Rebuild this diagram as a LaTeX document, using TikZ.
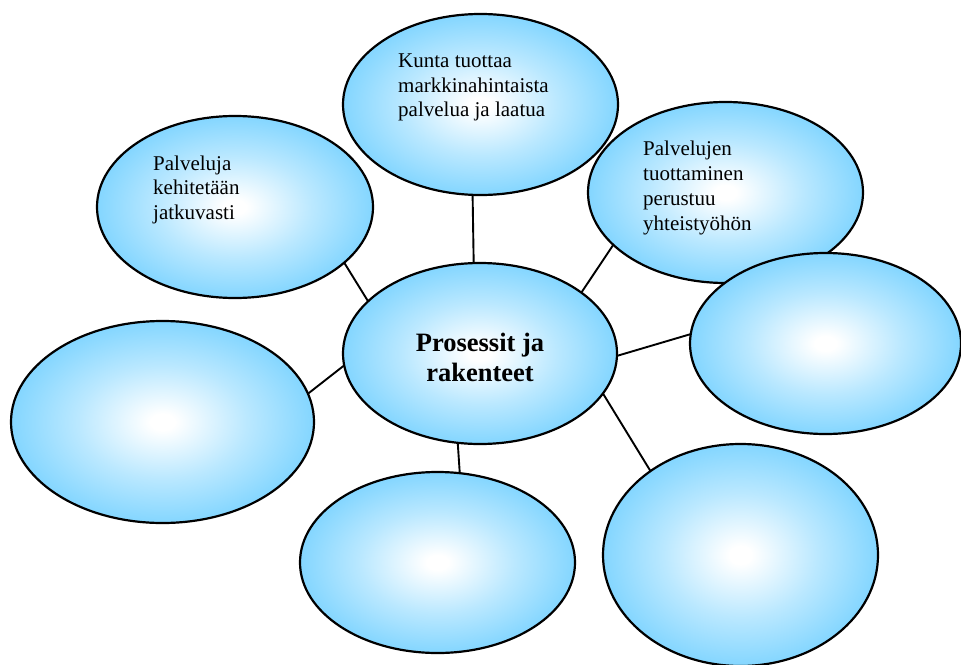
\documentclass[tikz,border=0pt]{standalone}
\usepackage{fontspec}
\setmainfont{Liberation Serif}
\usetikzlibrary{shapes.geometric}

\definecolor{bubbleblue}{RGB}{102,204,255}
\pgfdeclareradialshading{bubbleshade}{\pgfpoint{0bp}{0bp}}{%
  color(0bp)=(white); color(2bp)=(white); color(14bp)=(bubbleblue!45!white);
  color(31bp)=(bubbleblue); color(50bp)=(bubbleblue)}

\tikzset{
  bubble/.style={ellipse, draw=black, line width=2.2pt, shading=bubbleshade,
    inner sep=0pt, outer sep=0pt},
  link/.style={draw=black, line width=1.9pt},
  label/.style={anchor=base west, align=left, inner sep=0pt,
    font=\fontsize{21}{24.5}\selectfont},
  hub/.style={anchor=base, align=center, inner sep=0pt,
    font=\fontsize{26.5}{30}\selectfont\bfseries}
}

\begin{document}
\begin{tikzpicture}[x=1pt, y=-1pt]
  \useasboundingbox (0,0) rectangle (961,664);

  % surrounding ellipses
  \node[bubble, minimum width=275pt, minimum height=181pt] (top)   at (480.5,104.5) {};
  \node[bubble, minimum width=276pt, minimum height=182pt] (tleft) at (235,207) {};
  \node[bubble, minimum width=275pt, minimum height=181pt] (tright) at (725.5,192.5) {};
  \node[bubble, minimum width=271pt, minimum height=181pt] (right) at (825.5,343.5) {};
  \node[bubble, minimum width=303pt, minimum height=202pt] (left)  at (162.5,422) {};
  \node[bubble, minimum width=275pt, minimum height=181pt] (bottom) at (437.5,562.5) {};
  \node[bubble, minimum width=275pt, minimum height=222pt] (bright) at (740.5,555) {};

  % central ellipse
  \node[bubble, minimum width=274pt, minimum height=181pt] (hub) at (480,353.5) {};

  % spokes
  \draw[link] (hub.94.4)  -- (top.265.3);
  \draw[link] (hub.155.7) -- (tleft.333);
  \draw[link] (hub.31.2)  -- (tright.205.8);
  \draw[link] (hub.359.4) -- (right.176.4);
  \draw[link] (hub.185.6) -- (left.11.6);
  \draw[link] (hub.256.8) -- (bottom.76.6);
  \draw[link] (hub.342.9) -- (bright.137.7);

  % texts (anchored at the baseline of their last line)
  \node[hub] (hubtext) at (480,381.7) {Prosessit ja\\rakenteet};
  \node[label] (toptext) at (398,116.7) {Kunta tuottaa\\markkinahintaista\\palvelua ja laatua};
  \node[label] (tlefttext) at (153,219) {Palveluja\\kehitetään\\jatkuvasti};
  \node[label, font=\fontsize{21}{25}\selectfont] (trighttext) at (643,230) {Palvelujen\\tuottaminen\\perustuu\\yhteistyöhön};
\end{tikzpicture}
\end{document}
